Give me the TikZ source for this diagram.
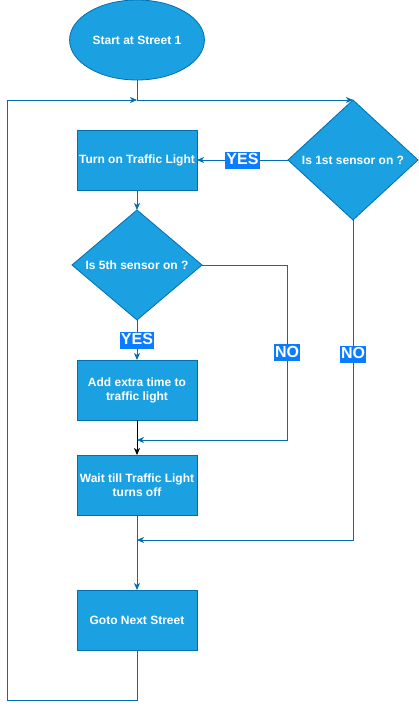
\documentclass[tikz,border=0pt]{standalone}
\usepackage{fontspec}
\setmainfont{Liberation Sans}
\usepackage{tikz}
\usetikzlibrary{positioning}
\usetikzlibrary{arrows.meta,shapes.geometric}

\definecolor{flowfill}{HTML}{1BA1E2}
\definecolor{flowline}{HTML}{006EAF}
\definecolor{yesno}{HTML}{0A7CFF}

\begin{document}
\begin{tikzpicture}[x=1pt,y=1pt,node distance=20pt,
    main node/.style={draw=flowline,fill=flowfill,text=white,line width=0.8pt,outer sep=0pt,font=\bfseries\fontsize{12pt}{14pt}\selectfont},
    box node/.style={main node,rectangle,minimum width=120pt,minimum height=60pt,inner sep=1pt,align=center},
    test node/.style={main node,diamond,inner sep=0pt,minimum width=130pt},
    answer/.style={fill=yesno,text=white,inner sep=1pt,text height=12pt,text depth=3pt,font=\bfseries\fontsize{16pt}{16pt}\selectfont},
    flow/.style={draw=flowline,line width=0.8pt,-{Stealth[length=7pt,width=6pt,inset=2pt]}}]

    \useasboundingbox (0,0) rectangle (418,-709);

		\node[main node][ellipse, minimum width=120pt, minimum height=80pt](1) at (137,-40){Start at Street 1};
		\node[box node](2)[below = 50pt of 1]{Turn on Traffic Light};
		\node[test node][aspect=1.08, minimum height=120pt](3)[right = 91pt of 2]{Is 1st sensor on ?};
		\node[test node][aspect=1.18, minimum height=110pt](4)[below = 20pt of 2]{Is 5th sensor on ?};
		\node[box node](5)[below = 40pt of 4]{Add extra time to\\traffic light};
		\node[box node](6)[below = 35pt of 5]{Wait till Traffic Light\\turns off};
		\node[box node](7)[below = 75pt of 6]{Goto Next Street};

		\coordinate (8) at (287,-440);
		\coordinate (9) at (352,-540);
		\coordinate (10) at (7,-700);

		\draw[flow] (1.south) |- (3.north);
		\draw[flow] (3.west) -- node[answer]{YES} (2.east);
		\draw[flow] (2) -- (4);
		\draw[flow] (4) -- node[answer]{YES} (5);
		\draw[flow,draw=black] (5) -- (6);
		\draw[flow] (6) -- (7);
		\draw[flow] (4.east) -| node[answer, pos=0.75]{NO} (8) -- (5.south |- 8);
		\draw[flow] (3.south) |- node[answer, pos=0.21]{NO} (6.south |- 9);
		\draw[flow] (7.south) |- (10) |- (1.south |- 3.north);

\end{tikzpicture}
\end{document}
